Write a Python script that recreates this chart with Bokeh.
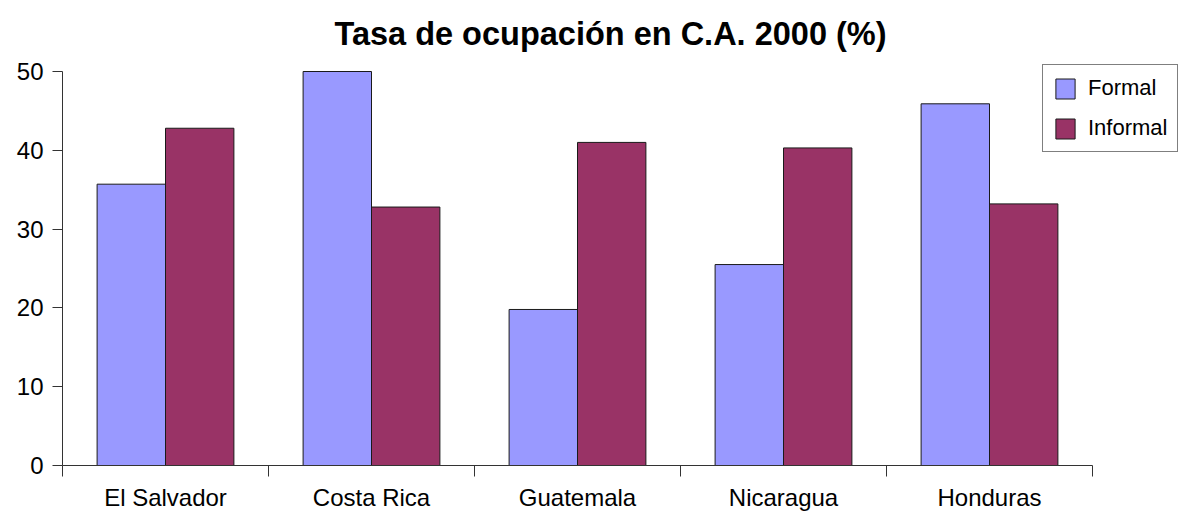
import numpy as np
from bokeh.plotting import figure
from bokeh.models import Range1d, FixedTicker, Legend, LegendItem, ColumnDataSource, Label
from bokeh.embed import file_html
from bokeh.resources import INLINE

categories = ["El Salvador", "Costa Rica", "Guatemala", "Nicaragua", "Honduras"]
formal = [35.7, 50.0, 19.8, 25.5, 45.9]
informal = [42.8, 32.8, 41.0, 40.3, 33.2]
y_ticks = [0, 10, 20, 30, 40, 50]
title_text = "Tasa de ocupación en C.A. 2000 (%)"

FONT = "Liberation Sans"
n = len(categories)
ymax = max(y_ticks)
centers = np.arange(n) + 0.5
bw = 0.332

src = ColumnDataSource(dict(
    xf=centers - bw / 2, xi=centers + bw / 2, formal=formal, informal=informal,
))

# The frame covers the whole area to the top and right edges so that the
# legend (which sits partly outside the axes) is not clipped; the axes are
# bounded to the data extent.
FW, AXW = 1118, 1030      # frame width / width of the 5 category slots
FH, AXH = 465, 394        # frame height / height of the 0..50 axis
p = figure(frame_width=FW, frame_height=FH,
           x_range=Range1d(0, n * FW / AXW), y_range=Range1d(0, ymax * FH / AXH),
           output_backend="svg", toolbar_location=None,
           min_border_left=62, min_border_right=0, min_border_top=0, min_border_bottom=46)
p.outline_line_color = None
p.xgrid.visible = False
p.ygrid.visible = False
p.background_fill_color = "white"
p.border_fill_color = "white"

r1 = p.vbar(x="xf", top="formal", width=bw, bottom=0, source=src,
            fill_color="#9999FF", line_color="#1a1a1a", line_width=1)
r2 = p.vbar(x="xi", top="informal", width=bw, bottom=0, source=src,
            fill_color="#993366", line_color="#1a1a1a", line_width=1)

# title (as a label in screen units, centred over the chart)
title = Label(x=548, y=432, x_units="screen", y_units="screen", text=title_text,
              text_font=FONT, text_font_size="32.5px", text_font_style="bold",
              text_color="black", text_align="center", text_baseline="alphabetic")
p.add_layout(title)

# x axis
xa = p.xaxis[0]
xa.bounds = (0, n)
xa.ticker = FixedTicker(ticks=[float(c) for c in centers], minor_ticks=list(range(n + 1)))
xa.major_label_overrides = {float(c): name for c, name in zip(centers, categories)}
xa.major_tick_out = 0
xa.major_tick_in = 0
xa.minor_tick_out = 11
xa.minor_tick_in = 0
xa.minor_tick_line_color = "#333333"
xa.axis_line_color = "#333333"
xa.major_label_text_font = FONT
xa.major_label_text_font_size = "24px"
xa.major_label_text_color = "black"
xa.major_label_standoff = 7

# y axis
ya = p.yaxis[0]
ya.bounds = (0, ymax)
ya.ticker = FixedTicker(ticks=y_ticks, minor_ticks=[])
ya.major_tick_out = 10
ya.major_tick_in = 0
ya.minor_tick_line_color = None
ya.axis_line_color = "#333333"
ya.major_tick_line_color = "#333333"
ya.major_label_text_font = FONT
ya.major_label_text_font_size = "24px"
ya.major_label_text_color = "black"
ya.major_label_standoff = 9

legend = Legend(items=[LegendItem(label="Formal", renderers=[r1]),
                       LegendItem(label="Informal", renderers=[r2])],
                location=(980, 313))
legend.margin = 0
legend.padding = 10
legend.spacing = 14
legend.glyph_width = 24
legend.glyph_height = 25
legend.label_height = 25
legend.label_standoff = 11
legend.label_text_font = FONT
legend.label_text_font_size = "22px"
legend.label_text_color = "black"
legend.border_line_color = "black"
legend.border_line_width = 1
legend.background_fill_color = "white"
legend.background_fill_alpha = 1.0
p.add_layout(legend)

open("out.html", "w").write(file_html(p, INLINE))
